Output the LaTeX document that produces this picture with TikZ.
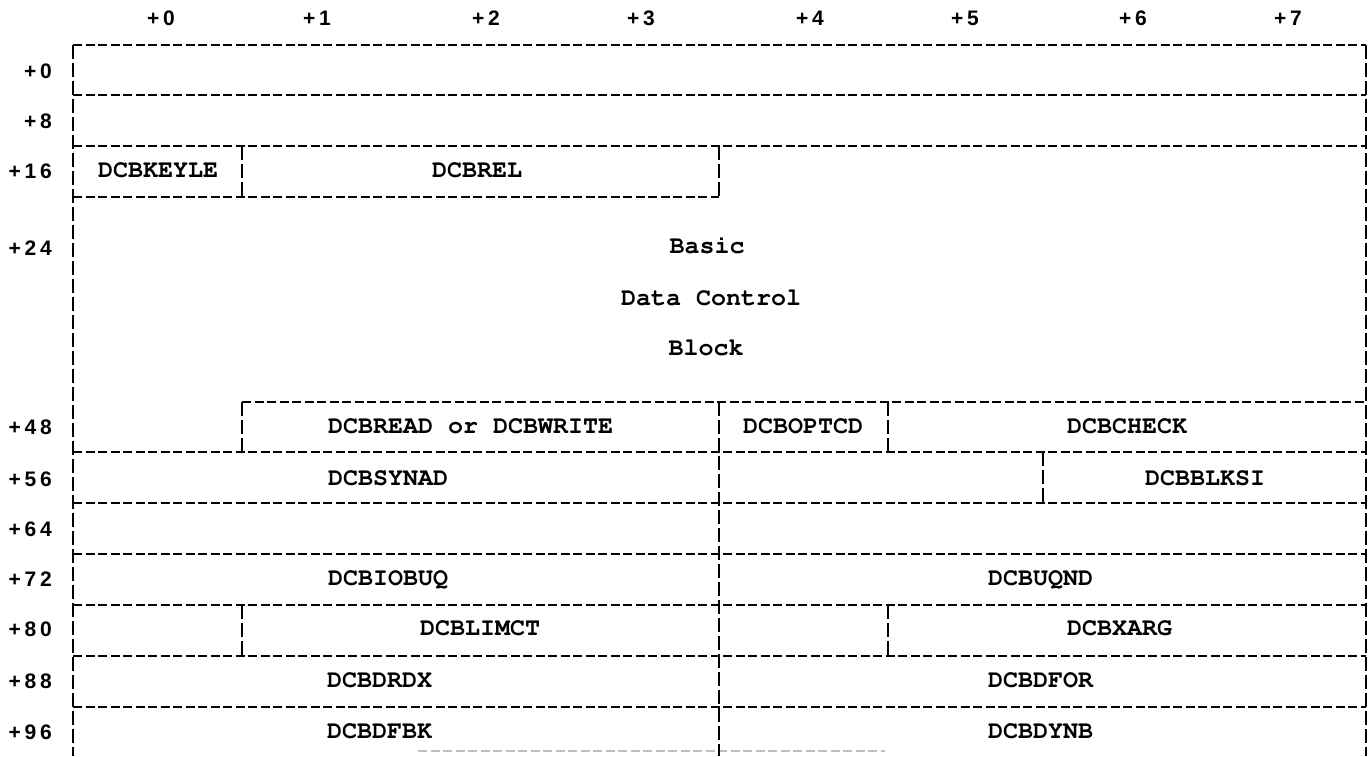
\documentclass[tikz,border=0pt]{standalone}
\usepackage[T1]{fontenc}
\usepackage{fontspec}
\newfontfamily\labfam[LetterSpace=18]{Liberation Sans}
\newcommand\typefam{\fontencoding{T1}\fontfamily{pcr}\fontseries{b}\fontshape{n}}
\begin{document}
\begin{tikzpicture}[x=1pt,y=-1pt,
  hl/.style={line width=2.2pt, dash pattern=on 9pt off 3.5pt},
  vl/.style={line width=2.2pt, dash pattern=on 14pt off 4pt},
  fld/.style={font=\typefam\fontsize{25}{30}\selectfont, inner sep=0pt, anchor=base west},
  ctr/.style={font=\typefam\fontsize{25}{30}\selectfont, inner sep=0pt, anchor=base},
  hdr/.style={font=\labfam\bfseries\fontsize{21}{23}\selectfont, inner sep=0pt, anchor=base},
  off/.style={font=\labfam\bfseries\fontsize{21}{23}\selectfont, inner sep=0pt, anchor=base east}]
\useasboundingbox (0,0) rectangle (1369,756);
\fill[white] (0,0) rectangle (1369,756);

% column headers
\node[hdr] (h0) at (161,25) {+0};
\node[hdr] (h1) at (317,25) {+1};
\node[hdr] (h2) at (486,25) {+2};
\node[hdr] (h3) at (641,25) {+3};
\node[hdr] (h4) at (810,25) {+4};
\node[hdr] (h5) at (965,25) {+5};
\node[hdr] (h6) at (1133,25) {+6};
\node[hdr] (h7) at (1288,25) {+7};

% row offsets
\node[off] (r0) at (52,78) {+0};
\node[off] (r8) at (52,128) {+8};
\node[off] (r16) at (52,178) {+16};
\node[off] (r24) at (52,255) {+24};
\node[off] (r48) at (52,434) {+48};
\node[off] (r56) at (52,486) {+56};
\node[off] (r64) at (52,536) {+64};
\node[off] (r72) at (52,586) {+72};
\node[off] (r80) at (52,636) {+80};
\node[off] (r88) at (52,688) {+88};
\node[off] (r96) at (52,739) {+96};

% horizontal lines
\draw[hl] (73,45) -- (1366,45);
\draw[hl] (73,95) -- (1366,95);
\draw[hl] (73,146) -- (1366,146);
\draw[hl] (73,197) -- (719,197);
\draw[hl] (242,402) -- (1366,402);
\foreach \yy in {452,503,554,605,656,707}
  \draw[hl] (73,\yy) -- (1366,\yy);
\draw[hl, black!25] (418,751) -- (885,751);

% vertical lines
\draw[vl] (73,45) -- (73,756);
\draw[vl] (1366,45) -- (1366,756);
\draw[vl] (242,146) -- (242,197);
\draw[vl] (242,402) -- (242,452);
\draw[vl] (242,605) -- (242,656);
\draw[vl] (719,146) -- (719,197);
\draw[vl] (719,402) -- (719,756);
\draw[vl] (888,402) -- (888,452);
\draw[vl] (888,605) -- (888,656);
\draw[vl] (1043,452) -- (1043,503);

% field names
\node[fld] (keyle) at (98,177) {DCBKEYLE};
\node[fld] (rel) at (432,177) {DCBREL};
\node[ctr] (basic) at (707,253) {Basic};
\node[ctr] (datactl) at (711,305) {Data Control};
\node[ctr] (block) at (706,355) {Block};
\node[fld] (readwrite) at (328,433) {DCBREAD or DCBWRITE};
\node[fld] (optcd) at (743,433) {DCBOPTCD};
\node[fld] (check) at (1067,433) {DCBCHECK};
\node[fld] (synad) at (328,485) {DCBSYNAD};
\node[fld] (blksi) at (1145,485) {DCBBLKSI};
\node[fld] (iobuq) at (328,585) {DCBIOBUQ};
\node[fld] (uqnd) at (988,585) {DCBUQND};
\node[fld] (limct) at (420,635) {DCBLIMCT};
\node[fld] (xarg) at (1067,635) {DCBXARG};
\node[fld] (drdx) at (327,687) {DCBDRDX};
\node[fld] (dfor) at (988,687) {DCBDFOR};
\node[fld] (dfbk) at (327,738) {DCBDFBK};
\node[fld] (dynb) at (988,738) {DCBDYNB};
\end{tikzpicture}
\end{document}
